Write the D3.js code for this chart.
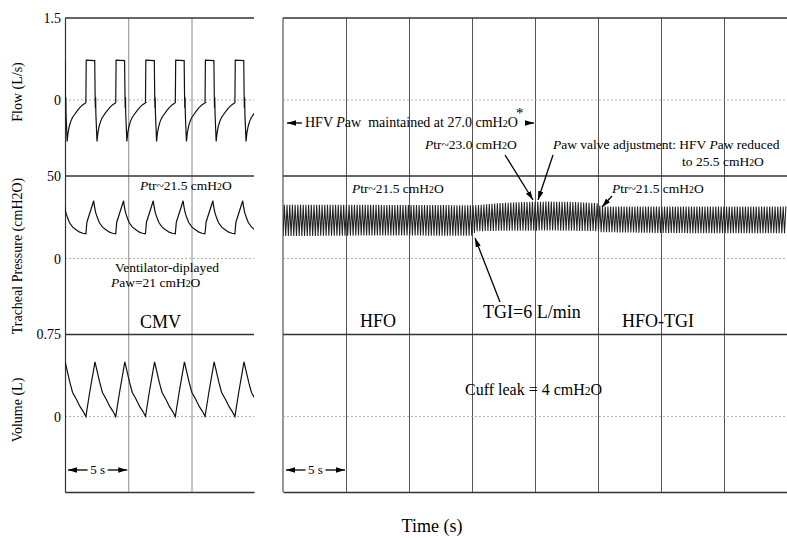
<!DOCTYPE html>
<html>
<head>
<meta charset="utf-8">
<script src="https://cdn.jsdelivr.net/npm/d3@7"></script>
<style>
  body { margin: 0; background: #fff; }
  svg text { font-family: "Liberation Serif", "Times New Roman", serif; fill: #000; }
</style>
</head>
<body>
<svg id="chart" width="787" height="538"></svg>
<script>
// ---- data ----

// CMV panel: seconds shown, and start of each breath (s from panel start)
const cmvSpan = 14.94
const breathStarts = [-0.71, 1.65, 4.01, 6.36, 8.72, 11.07, 13.43]

// one CMV breath, time from start of inspiration (s)
const flowT = [0, 0.03, 0.7, 0.73, 0.75, 0.77, 0.79, 0.88, 0.95, 1.05, 1.15, 1.3, 1.48, 1.7, 1.88, 2.1, 2.3, 2.36]
const flowV = [-0.05, 0.73, 0.72, 0.1, -0.15, 0.05, -0.25, -0.76, -0.6, -0.48, -0.4, -0.32, -0.26, -0.19, -0.14, -0.09, -0.06, -0.05]

const pressT = [0, 0.08, 0.62, 0.67, 0.77, 0.92, 1.07, 1.32, 1.59, 1.87, 2.12, 2.36]
const pressV = [15, 22, 35, 32, 28, 24.5, 21.7, 19, 17.5, 16, 15.3, 15]

const volT = [0, 0.3, 0.72, 0.82, 1.1, 1.31, 1.62, 1.9, 2.13, 2.36]
const volV = [0, 0.22, 0.5, 0.45, 0.31, 0.22, 0.155, 0.09, 0.05, 0]

// HFO panel: tracheal pressure envelope (cmH2O) at these times (s)
const hfoSpan = 40
const hfoKnots = [0, 7.5, 15.0, 15.3, 17, 19, 21, 23, 25, 25.2, 30, 35, 40]
const hfoTop = [32.5, 32.5, 32.3, 32.3, 33.5, 34.2, 34.5, 34.3, 33.5, 31.5, 31.5, 31.5, 31.5]
const hfoBottom = [13.6, 14.0, 13.8, 16.5, 16.8, 16.8, 17.0, 16.8, 16.6, 16.0, 15.5, 15.3, 15.3]
const hfoPeriod = 0.214

// rows: flow, tracheal pressure, volume
const rowNames = ["Flow (L/s)", "Tracheal Pressure (cmH2O)", "Volume (L)"]
const rowDomains = [[-1.39, 1.5], [-46, 50], [-0.69, 0.75]]
const rowTicks = [[0, 1.5], [0, 50], [0, 0.75]]

// ---- layout ----
const svg = d3.select("#chart")
const rowTop = [18, 176, 334.5]
const rowBottom = [176, 334.5, 492]
const titleY = [92, 256, 410]

const xL = d3.scaleLinear().domain([0, cmvSpan]).range([65, 254])
const xR = d3.scaleLinear().domain([0, hfoSpan]).range([283, 787])
const ys = rowDomains.map((d, i) => d3.scaleLinear().domain(d).range([rowBottom[i], rowTop[i]]))

const defs = svg.append("defs")
defs.append("marker")
  .attr("id", "arrow")
  .attr("viewBox", "0 0 10 6")
  .attr("refX", 10)
  .attr("refY", 3)
  .attr("markerWidth", 9)
  .attr("markerHeight", 5.5)
  .attr("markerUnits", "userSpaceOnUse")
  .attr("orient", "auto")
  .append("path")
  .attr("d", "M0,0L10,3L0,6Z")
  .attr("fill", "#000")

defs.append("clipPath").attr("id", "clipL")
  .append("rect").attr("x", 65).attr("y", 0).attr("width", 189).attr("height", 538)
defs.append("clipPath").attr("id", "clipR")
  .append("rect").attr("x", 283).attr("y", 0).attr("width", 504).attr("height", 538)

// vertical 5 s grid + bottom line, both panels
const gridH = rowBottom[2] - rowTop[0]
const gridL = svg.append("g")
  .attr("transform", `translate(0,${rowBottom[2]})`)
  .call(d3.axisBottom(xL).tickValues([5, 10]).tickSize(-gridH).tickSizeOuter(0).tickFormat(""))
const gridR = svg.append("g")
  .attr("transform", `translate(0,${rowBottom[2]})`)
  .call(d3.axisBottom(xR).tickValues([5, 10, 15, 20, 25, 30, 35]).tickSize(-gridH).tickSizeOuter(0).tickFormat(""))
gridL.selectAll(".tick line").attr("stroke", "#8a8a8a")
gridR.selectAll(".tick line").attr("stroke", "#555")
gridL.select(".domain").attr("stroke", "#333").attr("stroke-width", 1.3)
gridR.select(".domain").attr("stroke", "#333").attr("stroke-width", 1.3)

// right panel left border
svg.append("line")
  .attr("x1", 283).attr("x2", 283).attr("y1", rowTop[0]).attr("y2", rowBottom[2])
  .attr("stroke", "#333")

// row separators and zero lines
rowTop.forEach((y0, i) => {
  [xL, xR].forEach(x => {
    svg.append("line")
      .attr("x1", x.range()[0]).attr("x2", x.range()[1])
      .attr("y1", y0).attr("y2", y0)
      .attr("stroke", "#333").attr("stroke-width", 1.3)
    svg.append("line")
      .attr("x1", x.range()[0]).attr("x2", x.range()[1])
      .attr("y1", ys[i](0)).attr("y2", ys[i](0))
      .attr("stroke", "#9a9a9a").attr("stroke-width", 0.8)
      .attr("stroke-dasharray", "2,2")
  })
})

// left axes
ys.forEach((y, i) => {
  const ax = svg.append("g")
    .attr("transform", "translate(65,0)")
    .call(d3.axisLeft(y).tickValues(rowTicks[i]).tickSize(0).tickSizeOuter(0).tickPadding(4).tickFormat(d => String(d)))
  ax.select(".domain").attr("stroke", "#333").attr("stroke-width", 1.2)
  ax.selectAll("text").attr("font-size", 14).attr("fill", "#000")

  svg.append("text")
    .attr("transform", `translate(22,${titleY[i]}) rotate(-90)`)
    .attr("text-anchor", "middle")
    .attr("font-size", 14)
    .text(rowNames[i])
})

// CMV traces
const cmv = [[flowT, flowV], [pressT, pressV], [volT, volV]]
cmv.forEach(([T, V], i) => {
  const pts = breathStarts.flatMap(s => T.map((t, k) => [s + t, V[k]]))
  svg.append("path")
    .datum(pts)
    .attr("clip-path", "url(#clipL)")
    .attr("fill", "none")
    .attr("stroke", "#111")
    .attr("stroke-width", 1.2)
    .attr("d", d3.line().x(d => xL(d[0])).y(d => ys[i](d[1])))
})

// HFO tracheal pressure
const envTop = d3.scaleLinear().domain(hfoKnots).range(hfoTop)
const envBot = d3.scaleLinear().domain(hfoKnots).range(hfoBottom)
const hfoPts = d3.range(0, hfoSpan + 1e-6, hfoPeriod / 2)
  .map((t, k) => [t, k % 2 ? envTop(t) : envBot(t)])
svg.append("path")
  .datum(hfoPts)
  .attr("clip-path", "url(#clipR)")
  .attr("fill", "none")
  .attr("stroke", "#222")
  .attr("stroke-width", 1.05)
  .attr("d", d3.line().x(d => xR(d[0])).y(d => ys[1](d[1])))

// ---- annotations ----
function label(x, y, parts, size, anchor) {
  const t = svg.append("text")
    .attr("x", x).attr("y", y)
    .attr("font-size", size)
    .attr("text-anchor", anchor || "start")
  parts.forEach(p => {
    const s = t.append("tspan").text(p[0])
    if (p[1] === "i") s.attr("font-style", "italic")
    if (p[1] === "s") s.attr("font-size", size * 0.72)
  })
  return t
}
const cmH2O = [["cmH"], ["2", "s"], ["O"]]

function arrow(x1, y1, x2, y2) {
  svg.append("line")
    .attr("x1", x1).attr("y1", y1).attr("x2", x2).attr("y2", y2)
    .attr("stroke", "#000").attr("stroke-width", 1.3)
    .attr("marker-end", "url(#arrow)")
}

label(140, 190, [["P", "i"], ["tr~21.5 "], ...cmH2O], 13.5)
label(115, 272, [["Ventilator-diplayed"]], 13.5)
label(111, 287, [["P", "i"], ["aw=21 "], ...cmH2O], 13.5)
label(140, 328, [["CMV"]], 18)

label(305, 127, [["HFV "], ["P", "i"], ["aw  maintained at 27.0 "], ...cmH2O], 14).attr("xml:space", "preserve")
label(516, 118, [["*"]], 15)
arrow(302, 123, 287, 123)
arrow(526, 123, 534, 123)

label(425, 149, [["P", "i"], ["tr~23.0 "], ...cmH2O], 13.5)
label(553, 149, [["P", "i"], ["aw valve adjustment: HFV "], ["P", "i"], ["aw reduced"]], 13.5)
label(682, 166, [["to 25.5 "], ...cmH2O], 13.5)
label(352, 193, [["P", "i"], ["tr~21.5 "], ...cmH2O], 13.5)
label(612, 193, [["P", "i"], ["tr~21.5 "], ...cmH2O], 13.5)
arrow(505, 155, 533, 200)
arrow(553, 155, 538, 200)
arrow(612, 196, 602, 207)
arrow(500, 302, 475, 238)

label(360, 327, [["HFO"]], 18)
label(483, 318, [["TGI=6 L/min"]], 18)
label(622, 327, [["HFO-TGI"]], 18)
label(465, 395, [["Cuff leak = 4 "], ...cmH2O], 16)

// 5 s scale bars
;[xL, xR].forEach(x => {
  const a = x(0) + 3, b = x(5) - 1, m = (a + b) / 2
  label(m, 474, [["5 s"]], 13, "middle")
  arrow(m - 10, 470, a, 470)
  arrow(m + 10, 470, b, 470)
})

label(432, 532, [["Time (s)"]], 18, "middle")
</script>
</body>
</html>
